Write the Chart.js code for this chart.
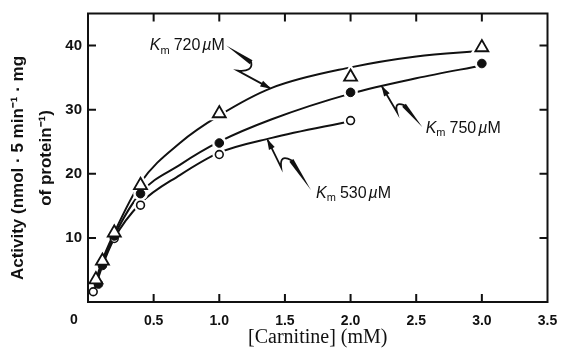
<!DOCTYPE html>
<html><head><meta charset="utf-8">
<script src="https://cdn.jsdelivr.net/npm/chart.js@4.4.1/dist/chart.umd.min.js"></script>
<style>html,body{margin:0;padding:0;background:#fff}#wrap{width:561px;height:348px;position:relative}</style>
</head><body><div id="wrap"><canvas id="c"></canvas></div>
<script>
// ---- data ----
const xTicks = [0, 0.5, 1.0, 1.5, 2.0, 2.5, 3.0, 3.5];
const yTicks = [10, 20, 30, 40];

// measured points (Km 720 µM: open triangles, 750 µM: filled circles, 530 µM: open circles)
const tri720X = [0.06, 0.11, 0.2, 0.4, 1.0, 2.0, 3.0];
const tri720Y = [3.5, 6.4, 10.8, 18.2, 29.4, 35.1, 39.7];
const dot750X = [0.08, 0.11, 0.2, 0.4, 1.0, 2.0, 3.0];
const dot750Y = [2.8, 5.7, 10.3, 16.9, 24.8, 32.7, 37.2];
const ring530X = [0.04, 0.2, 0.4, 1.0, 2.0];
const ring530Y = [1.6, 9.9, 15.1, 23.0, 28.3];

// fitted curves
const fit720X = [0.05, 0.1, 0.2, 0.4, 0.7, 1.0, 1.4, 2.0, 2.5, 3.0];
const fit720Y = [2.6, 6.0, 10.8, 18.6, 24.8, 29.1, 33.4, 36.6, 38.3, 39.2];
const fit750X = [0.05, 0.1, 0.2, 0.4, 0.7, 1.0, 1.4, 2.0, 2.5, 3.0];
const fit750Y = [2.4, 5.4, 10.3, 17.0, 21.4, 25.0, 28.5, 32.5, 34.9, 36.9];
const fit530X = [0.05, 0.1, 0.2, 0.4, 0.7, 1.0, 1.4, 2.0];
const fit530Y = [1.9, 5.1, 9.9, 15.4, 19.8, 23.3, 25.6, 28.2];

const kmValues = ['720', '750', '530'];
const yTitleLines = ['Activity (nmol \u00b7 5 min\u207b\u00b9 \u00b7 mg', 'of protein\u207b\u00b9)'];
const xTitle = '[Carnitine] (mM)';

// ---- annotation placement (data units) ----
const kmLabelPos = [[0.471, 40.0], [2.572, 27.1], [1.737, 16.95]];
const kmArrows = [
  [[1.053, 40.0], [1.243, 37.4], [1.139, 36.1], [1.382, 33.4]],
  [[2.546, 27.3], [2.407, 30.7], [2.354, 29.6], [2.242, 33.5]],
  [[1.698, 17.47], [1.549, 22.1], [1.471, 21.0], [1.37, 25.2]]
];

const INK = '#111';
const SANS = '"Liberation Sans", Arial, Helvetica, sans-serif';
const SERIF = '"Liberation Serif", "Times New Roman", serif';
const toXY = (xs, ys) => xs.map((x, i) => ({x: x, y: ys[i]}));

function curve(xs, ys) {
  return {type: 'line', data: toXY(xs, ys), borderColor: INK, borderWidth: 2, pointRadius: 0,
    cubicInterpolationMode: 'monotone', fill: false, order: 3};
}
function halo(xs, ys, style, r) {
  return {type: 'scatter', data: toXY(xs, ys), pointStyle: style,
    pointRadius: c => (c.raw && c.raw.x >= 0.3) ? r : 0,
    pointBackgroundColor: '#fff', pointBorderColor: '#fff', pointBorderWidth: 6, showLine: false, order: 2};
}
function marks(xs, ys, style, r, fill, bw) {
  return {type: 'scatter', data: toXY(xs, ys), pointStyle: style, pointRadius: r,
    pointBackgroundColor: fill, pointBorderColor: INK, pointBorderWidth: bw, showLine: false, order: 1};
}

const frame = {
  id: 'frame',
  afterDatasetsDraw(chart) {
    const {ctx, chartArea: a, scales: {x, y}} = chart;
    ctx.save();
    ctx.strokeStyle = INK; ctx.lineWidth = 2;
    ctx.strokeRect(a.left, a.top, a.right - a.left, a.bottom - a.top);
    const L = 8;
    ctx.beginPath();
    xTicks.forEach(v => {
      if (v <= x.min || v >= x.max) return;
      const px = x.getPixelForValue(v);
      ctx.moveTo(px, a.bottom); ctx.lineTo(px, a.bottom - L);
      ctx.moveTo(px, a.top); ctx.lineTo(px, a.top + L);
    });
    yTicks.forEach(v => {
      const py = y.getPixelForValue(v);
      ctx.moveTo(a.left, py); ctx.lineTo(a.left + L, py);
      ctx.moveTo(a.right, py); ctx.lineTo(a.right - L, py);
    });
    ctx.stroke();

    ctx.fillStyle = INK;
    // origin label placed left of the axis
    ctx.font = 'bold 14px ' + SANS;
    ctx.textAlign = 'center'; ctx.textBaseline = 'top';
    ctx.fillText('0', x.getPixelForValue(0) - 14, x.top + 11);

    // y-axis title, two rotated lines
    const titleCenters = [[18, 168], [46, 158]];
    yTitleLines.forEach((line, i) => {
      ctx.save();
      ctx.font = 'bold 17px ' + SANS;
      ctx.textAlign = 'center'; ctx.textBaseline = 'middle';
      ctx.translate(titleCenters[i][0], titleCenters[i][1]); ctx.rotate(-Math.PI / 2);
      ctx.fillText(line, 0, 0);
      ctx.restore();
    });

    // Km labels
    kmValues.forEach((val, i) => {
      const px = x.getPixelForValue(kmLabelPos[i][0]);
      const py = y.getPixelForValue(kmLabelPos[i][1]);
      ctx.textAlign = 'left'; ctx.textBaseline = 'middle';
      let cx = px;
      ctx.font = 'italic 16px ' + SANS; ctx.fillText('K', cx, py); cx += ctx.measureText('K').width;
      ctx.font = '11px ' + SANS; ctx.fillText('m', cx, py + 5); cx += ctx.measureText('m').width + 4;
      ctx.font = '16px ' + SANS; ctx.fillText(val, cx, py); cx += ctx.measureText(val).width + 2;
      ctx.font = 'italic 16px ' + SANS; ctx.fillText('\u00b5', cx, py); cx += ctx.measureText('\u00b5').width;
      ctx.font = '16px ' + SANS; ctx.fillText('M', cx, py);

      // squiggly arrow
      const p = kmArrows[i].map(q => [x.getPixelForValue(q[0]), y.getPixelForValue(q[1])]);
      const [s, b1, b2, t] = p;
      const dx = b1[0] - s[0], dy = b1[1] - s[1], len = Math.hypot(dx, dy);
      const nx = -dy / len, ny = dx / len;
      ctx.beginPath();
      ctx.moveTo(s[0], s[1]);
      ctx.lineTo(b1[0] + nx * 2.4, b1[1] + ny * 2.4);
      ctx.lineTo(b1[0] - nx * 2.4, b1[1] - ny * 2.4);
      ctx.closePath(); ctx.fill();
      ctx.lineWidth = 1.8; ctx.lineCap = 'round';
      ctx.beginPath();
      ctx.moveTo(b1[0], b1[1]);
      const mx = (b1[0] + b2[0]) / 2 + (b1[0] - s[0]) * 0.35, my = (b1[1] + b2[1]) / 2 + (b1[1] - s[1]) * 0.35;
      ctx.quadraticCurveTo(mx, my, b2[0], b2[1]);
      ctx.lineTo(t[0], t[1]);
      ctx.stroke();
      const ax = t[0] - b2[0], ay = t[1] - b2[1], al = Math.hypot(ax, ay);
      const ux = ax / al, uy = ay / al;
      ctx.beginPath();
      ctx.moveTo(t[0] + ux * 2, t[1] + uy * 2);
      ctx.lineTo(t[0] - ux * 9 - uy * 3.2, t[1] - uy * 9 + ux * 3.2);
      ctx.lineTo(t[0] - ux * 9 + uy * 3.2, t[1] - uy * 9 - ux * 3.2);
      ctx.closePath(); ctx.fill();
    });
    ctx.restore();
  }
};

new Chart(document.getElementById('c'), {
  type: 'scatter',
  data: {
    datasets: [
      curve(fit720X, fit720Y),
      curve(fit750X, fit750Y),
      curve(fit530X, fit530Y),
      halo(tri720X, tri720Y, 'triangle', 7.5),
      halo(dot750X, dot750Y, 'circle', 4.3),
      halo(ring530X, ring530Y, 'circle', 3.9),
      marks(tri720X, tri720Y, 'triangle', 7.5, '#fff', 1.8),
      marks(dot750X, dot750Y, 'circle', 4.3, INK, 1),
      marks(ring530X, ring530Y, 'circle', 3.9, '#fff', 1.6)
    ]
  },
  options: {
    responsive: true, maintainAspectRatio: false, animation: false, events: [],
    layout: {padding: {top: 12, right: 12, left: 0, bottom: 0}},
    plugins: {legend: {display: false}, tooltip: {enabled: false}},
    scales: {
      x: {
        type: 'linear', min: 0, max: 3.5,
        afterBuildTicks: s => { s.ticks = xTicks.map(v => ({value: v})); },
        afterFit: s => { s.height = 46; s.paddingRight = 0; s.paddingLeft = 0; },
        grid: {display: false, drawTicks: false},
        border: {display: false},
        ticks: {
          autoSkip: false, maxRotation: 0, padding: 11, color: INK,
          font: {family: SANS, size: 14, weight: 'bold'},
          callback: v => v === 0 ? '' : Number(v).toFixed(1)
        },
        title: {display: true, text: xTitle, color: INK,
          font: {family: SERIF, size: 20, lineHeight: 1}, padding: 0}
      },
      y: {
        type: 'linear', min: 0, max: 45,
        afterBuildTicks: s => { s.ticks = yTicks.map(v => ({value: v})); },
        afterFit: s => { s.width = 88; s.paddingTop = 0; s.paddingBottom = 0; },
        grid: {display: false, drawTicks: false},
        border: {display: false},
        ticks: {padding: 6, color: INK, font: {family: SANS, size: 15, weight: 'bold'}},
        title: {display: false}
      }
    }
  },
  plugins: [frame]
});
</script>
</body></html>
